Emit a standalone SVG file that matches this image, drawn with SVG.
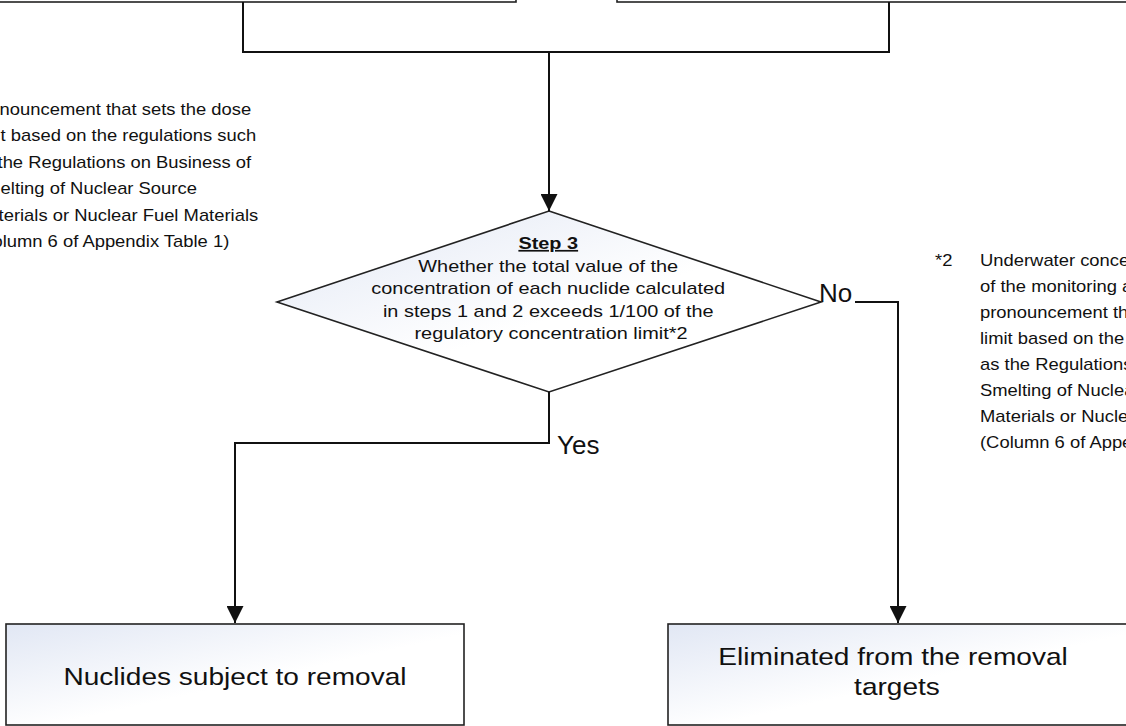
<svg xmlns="http://www.w3.org/2000/svg" width="1126" height="726" viewBox="0 0 1126 726">
<style>
  text { font-family: "Liberation Sans", Arial, sans-serif; fill: #111; }
  .box { fill: url(#g); stroke: #222; stroke-width: 1.6; }
  .conn { fill: none; stroke: #111; stroke-width: 2; }
  .note { font-size: 16px; }
  .dtext { font-size: 17px; }
  .btext { font-size: 24px; }
  .lbl { font-size: 26px; }
</style>
<defs>
  <linearGradient id="g" x1="0" y1="0" x2="1" y2="1">
    <stop offset="0" stop-color="#e1e7f4"/>
    <stop offset="0.55" stop-color="#ffffff"/>
    <stop offset="1" stop-color="#ffffff"/>
  </linearGradient>
  <marker id="arr" markerUnits="userSpaceOnUse" markerWidth="17" markerHeight="17" refX="17" refY="8.5" orient="auto">
    <path d="M0,0 L17,8.5 L0,17 z" fill="#111"/>
  </marker>
</defs>

<g id="top-left-box"><rect class="box" x="-10" y="-100" width="526" height="102"/></g>
<g id="top-right-box"><rect class="box" x="617" y="-100" width="520" height="102"/></g>

<g id="note1">
  <text class="note" transform="translate(-27 0) scale(1.15 1)">
    <tspan x="0" y="115">pronouncement that sets the dose</tspan>
    <tspan x="0" y="141.5">limit based on the regulations such</tspan>
    <tspan x="0" y="168">as the Regulations on Business of</tspan>
    <tspan x="0" y="194.5">Smelting of Nuclear Source</tspan>
    <tspan x="0" y="221">Materials or Nuclear Fuel Materials</tspan>
    <tspan x="0" y="247.5">(Column 6 of Appendix Table 1)</tspan>
  </text>
</g>

<g id="note2">
  <text class="note" transform="translate(935 0) scale(1.15 1)"><tspan x="0" y="266">*2</tspan></text>
  <text class="note" transform="translate(980 0) scale(1.15 1)">
    <tspan x="0" y="266">Underwater concentration</tspan>
    <tspan x="0" y="292">of the monitoring a</tspan>
    <tspan x="0" y="318">pronouncement that sets the dose</tspan>
    <tspan x="0" y="344">limit based on the regulations such</tspan>
    <tspan x="0" y="370">as the Regulations on Business of</tspan>
    <tspan x="0" y="396">Smelting of Nuclear Source</tspan>
    <tspan x="0" y="422">Materials or Nuclear Fuel Materials</tspan>
    <tspan x="0" y="448">(Column 6 of Appendix Table 1)</tspan>
  </text>
</g>

<g id="step3">
  <polygon class="box" points="549,211 821,302 549,392 277,302"/>
  <text class="dtext" text-anchor="middle" transform="translate(551 0) scale(1.17 1)">
    <tspan x="0" y="249" font-weight="bold" text-decoration="underline">Step 3</tspan>
    <tspan x="0" y="272">Whether the total value of the</tspan>
    <tspan x="0" y="294.3">concentration of each nuclide calculated</tspan>
    <tspan x="0" y="316.6">in steps 1 and 2 exceeds 1/100 of the</tspan>
    <tspan x="0" y="339">regulatory concentration limit*2</tspan>
  </text>
</g>

<g id="subject">
  <rect class="box" x="6" y="624" width="458" height="101"/>
  <text class="btext" text-anchor="middle" transform="translate(235 0) scale(1.17 1)"><tspan x="0" y="685">Nuclides subject to removal</tspan></text>
</g>

<g id="eliminated">
  <rect class="box" x="668" y="624" width="462" height="101"/>
  <text class="btext" text-anchor="middle" transform="translate(897 0) scale(1.17 1)">
    <tspan x="0" y="665">Eliminated from the removal</tspan>
    <tspan x="0" y="695">targets</tspan>
  </text>
</g>

<g id="connectors">
  <path class="conn" d="M243,2 V52 H889 V2"/>
  <path class="conn" d="M549,52 V211" marker-end="url(#arr)"/>
  <path class="conn" d="M549,392 V443 H235 V623" marker-end="url(#arr)"/>
  <path class="conn" d="M855,302 H898 V623" marker-end="url(#arr)"/>
  <text class="lbl" x="557" y="454">Yes</text>
  <text class="lbl" x="819" y="302">No</text>
</g>
</svg>
